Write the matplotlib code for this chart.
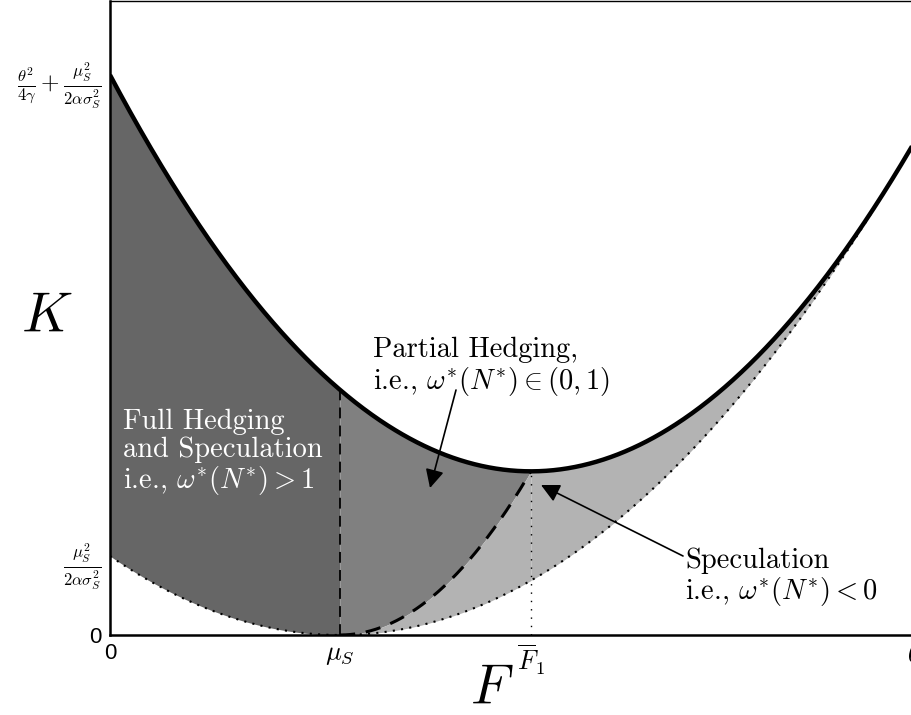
import matplotlib
matplotlib.use("Agg")
import matplotlib.pyplot as plt
import numpy as np

plt.rcParams['mathtext.fontset'] = 'cm'
plt.rcParams['font.family'] = ['cmr10', 'DejaVu Serif']
plt.rcParams['axes.formatter.use_mathtext'] = True

# model parameters (F in units of theta, K scaled so the upper curve starts at 1)
theta = 1.0
mu_s = 0.286
k_low0 = 0.141     # mu_S^2 / (2 alpha sigma_S^2)
k_gap0 = 0.859     # theta^2 / (4 gamma)

a = k_low0 / mu_s**2
b = k_gap0 / theta**2

def k_lower(F):
    return a * (F - mu_s)**2

def k_upper(F):
    return a * (F - mu_s)**2 + b * (theta - F)**2

fbar1 = (a * mu_s + b * theta) / (a + b)
k_star = k_upper(fbar1)
c = k_star / (fbar1 - mu_s)**2

def k_dashed(F):
    return c * (F - mu_s)**2

xticks = [0, mu_s, fbar1, theta]
xlabels = ['0', r'$\mu_S$', r'$\overline{F}_1$', r'$\theta$']
yticks = [0, k_low0, k_low0 + k_gap0]
ylabels = ['0', r'$\frac{\mu_S^2}{2\alpha\sigma_S^2}$',
           r'$\frac{\theta^2}{4\gamma}+\frac{\mu_S^2}{2\alpha\sigma_S^2}$']

fig = plt.figure(figsize=(9.12, 7.15), dpi=100)
ax = fig.add_axes([110/912, 80/715, 820/912, 634/715])
xmax = 820/804
ax.set_xlim(0, xmax)
ax.set_ylim(0, 634/560)

F = np.linspace(0, xmax, 800)
F1 = F[F <= mu_s]
F2 = F[(F >= mu_s) & (F <= fbar1)]
F3 = F[F >= fbar1]
F1 = np.append(F1, mu_s)
F2 = np.concatenate([[mu_s], F2, [fbar1]])
F3 = np.insert(F3, 0, fbar1)

# shaded regions
ax.fill_between(F1, k_lower(F1), k_upper(F1), color='#666666', lw=0)
ax.fill_between(F2, k_dashed(F2), k_upper(F2), color='#808080', lw=0)
ax.fill_between(F2, k_lower(F2), k_dashed(F2), color='#b3b3b3', lw=0)
ax.fill_between(F3, k_lower(F3), k_upper(F3), color='#b3b3b3', lw=0)

# boundary curves
ax.plot(F, k_upper(F), color='k', lw=3.2, solid_capstyle='butt')
ax.plot(F, k_lower(F), color='k', lw=1.5, linestyle=(0, (1, 3)))
ax.plot(F2, k_dashed(F2), color='k', lw=2.2, linestyle=(0, (5, 3.5)))
ax.plot([mu_s, mu_s], [0, k_upper(mu_s)], color='k', lw=1.3, linestyle=(0, (6, 4)))
ax.plot([fbar1, fbar1], [0, k_star], color='k', lw=1, linestyle=(0, (1, 5)))

def px(x, y):
    return (x - 110) / 804, (635 - y) / 560

ax.text(*px(123, 409), 'Full Hedging\nand Speculation\ni.e., $\\omega^{*}(N^{*}) > 1$',
        color='white', fontsize=20.5, va='top', ha='left', linespacing=1.05)
ax.text(*px(373, 337), 'Partial Hedging,\ni.e., $\\omega^{*}(N^{*}) \\in (0,1)$',
        color='k', fontsize=20.5, va='top', ha='left', linespacing=1.05)
ax.text(*px(685, 547), 'Speculation\ni.e., $\\omega^{*}(N^{*}) < 0$',
        color='k', fontsize=20.5, va='top', ha='left', linespacing=1.05)

arrow = dict(arrowstyle='-|>', mutation_scale=28, lw=1.2, color='k', shrinkA=0, shrinkB=0)
ax.annotate('', xy=px(430, 488), xytext=px(456, 390), arrowprops=arrow)
ax.annotate('', xy=px(541, 485), xytext=px(683, 556), arrowprops=arrow)

ax.set_xticks(xticks)
ax.set_xticklabels(xlabels, fontsize=19)
ax.set_yticks(yticks)
ax.set_yticklabels(ylabels, fontsize=17)
ax.tick_params(length=0, pad=6)
ax.get_xticklabels()[0].set_fontfamily('Liberation Sans')
ax.get_xticklabels()[0].set_fontsize(16)
ax.get_yticklabels()[0].set_fontfamily('Liberation Sans')
ax.get_yticklabels()[0].set_fontsize(16)

# axis names placed in figure pixels
fig.text(492/912, 1 - 690/715, '$F$', fontsize=40, ha='center', va='center')
fig.text(47/912, 1 - 318/715, '$K$', fontsize=40, ha='center', va='center')

for s in ['left', 'bottom']:
    ax.spines[s].set_linewidth(1.8)
ax.spines['top'].set_linewidth(1.0)
ax.spines['right'].set_visible(False)

fig.savefig('out.png', dpi=100)
